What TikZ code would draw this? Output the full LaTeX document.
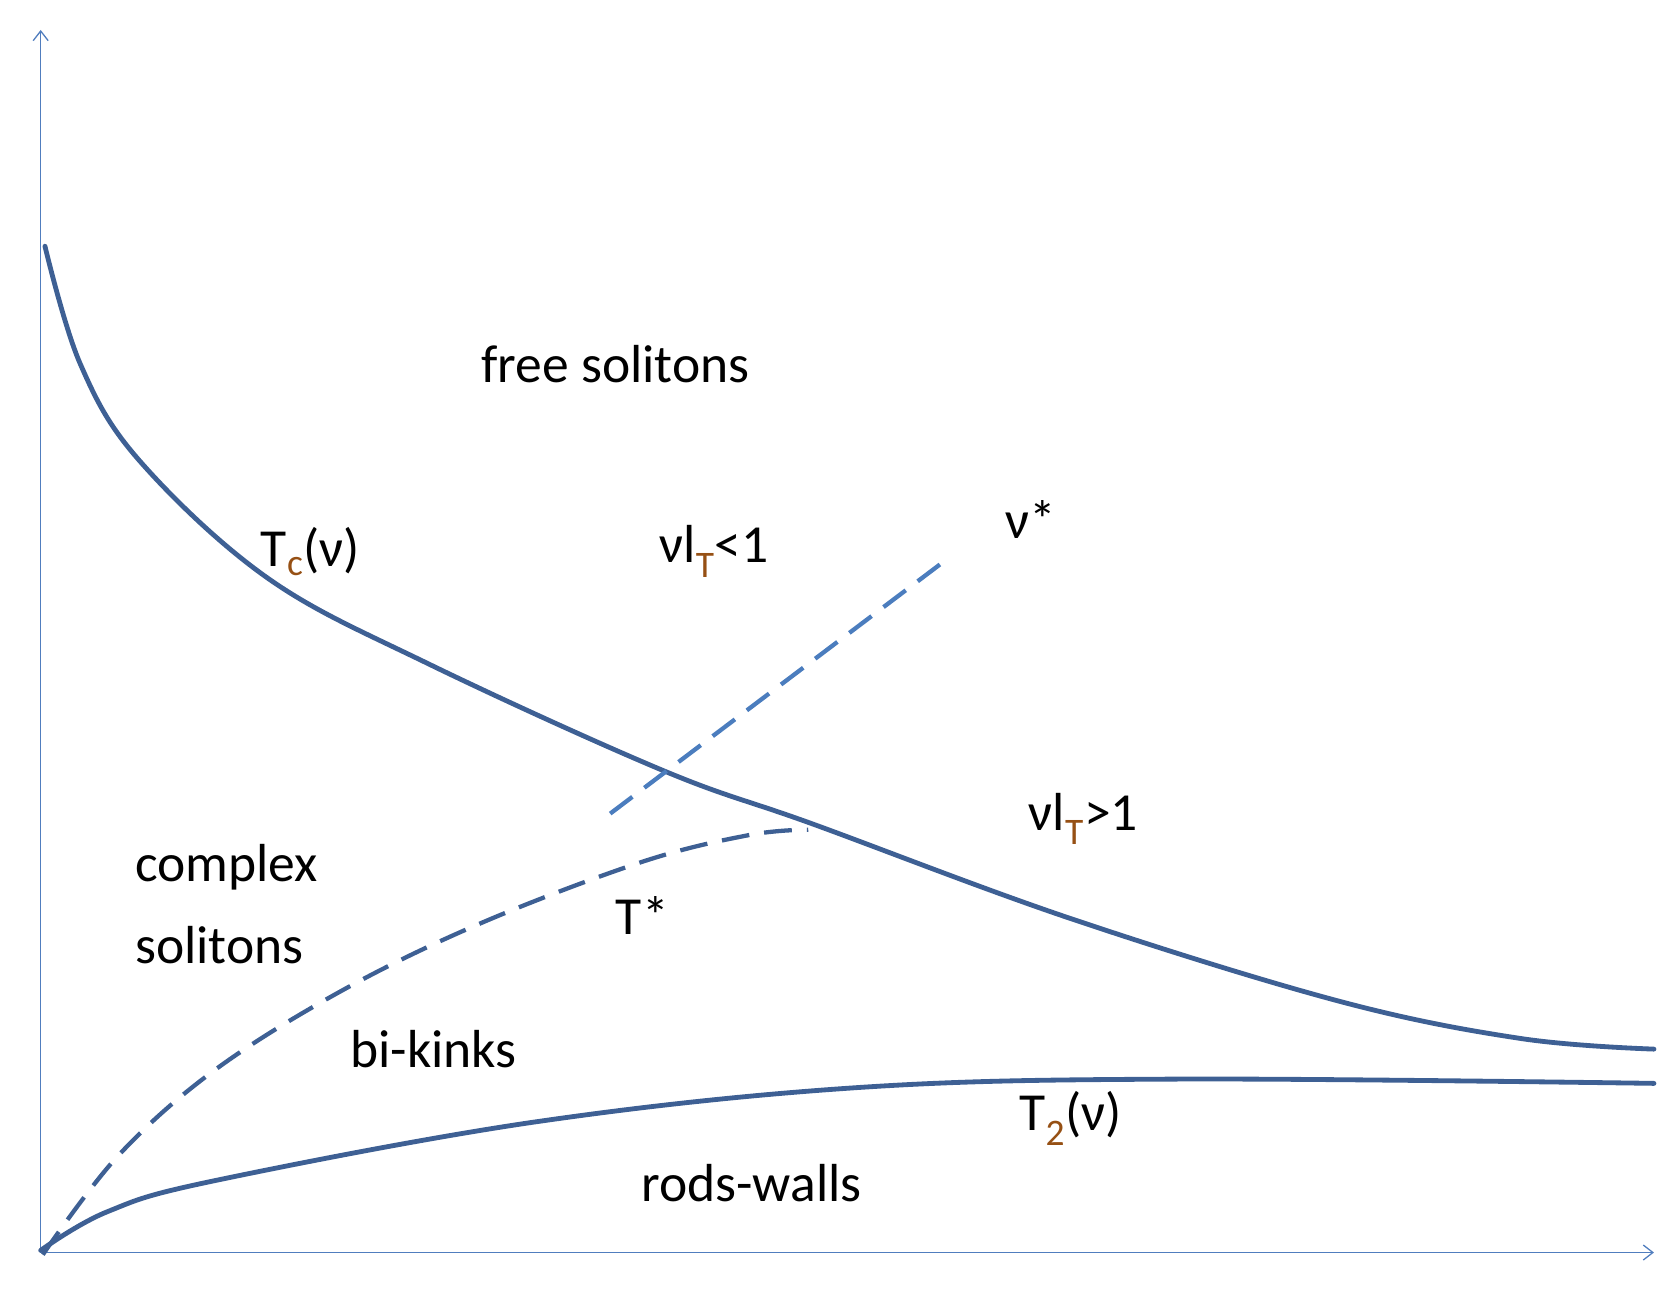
\documentclass[tikz,border=0pt]{standalone}
\usetikzlibrary{arrows.meta}
\usepackage{fontspec}
\setmainfont{Carlito}
\definecolor{curve}{RGB}{62,96,148}
\definecolor{axis}{RGB}{80,125,190}
\definecolor{dashblue}{RGB}{75,125,190}
\definecolor{sub}{RGB}{150,80,20}
\begin{document}
\begin{tikzpicture}[x=1pt,y=-1pt,
  ax/.style={axis,line width=1.2pt,->,>={Straight Barb[length=9pt,width=14pt]}},
  cv/.style={curve,line width=4.5pt,line cap=round},
  lb/.style={font=\fontsize{50}{60}\selectfont,inner sep=0pt}]
\useasboundingbox (0,0) rectangle (1560,1204);
\coordinate (O) at (38,1170);
\coordinate (Y) at (38,28);
\coordinate (X) at (1545,1170);
\draw[ax] (O) -- (Y);
\draw[ax] (O) -- (X);
\draw[cv] plot[smooth,tension=0.6] coordinates {(42,230) (75,340) (130,430) (250,540) (400,620) (620,720) (760,770) (1000,858) (1250,935) (1420,970) (1545,980)};
\draw[cv] plot[smooth,tension=0.6] coordinates {(38,1168) (100,1132) (200,1103) (500,1048) (800,1016) (1100,1008) (1545,1012)};
\draw[curve,line width=4pt,dash pattern=on 26pt off 14pt] plot[smooth,tension=0.6] coordinates {(40,1172) (110,1080) (200,1000) (320,925) (450,862) (600,805) (700,780) (755,775)};
\coordinate (d1) at (570,760);
\coordinate (d2) at (885,522);
\draw[dashblue,line width=4pt,dash pattern=on 26pt off 14pt] (d1) -- (d2);
\node[lb] (fs) at (575,340) {free solitons};
\node[lb] (tc) at (290,515) {T\textsubscript{\textcolor{sub}{c}}(ν)};
\node[lb] (l1) at (667,515) {νl\textsubscript{\textcolor{sub}{T}}<1};
\node[lb] (ns) at (963,485) {ν*};
\node[lb] (l2) at (1012,765) {νl\textsubscript{\textcolor{sub}{T}}>1};
\node[lb,anchor=west] (cs1) at (126,810) {complex};
\node[lb,anchor=west] (cs2) at (126,883) {solitons};
\node[lb] (ts) at (600,855) {T*};
\node[lb] (bk) at (405,980) {bi-kinks};
\node[lb] (t2) at (1000,1045) {T\textsubscript{\textcolor{sub}{2}}(ν)};
\node[lb] (rw) at (702,1105) {rods-walls};
\end{tikzpicture}
\end{document}
